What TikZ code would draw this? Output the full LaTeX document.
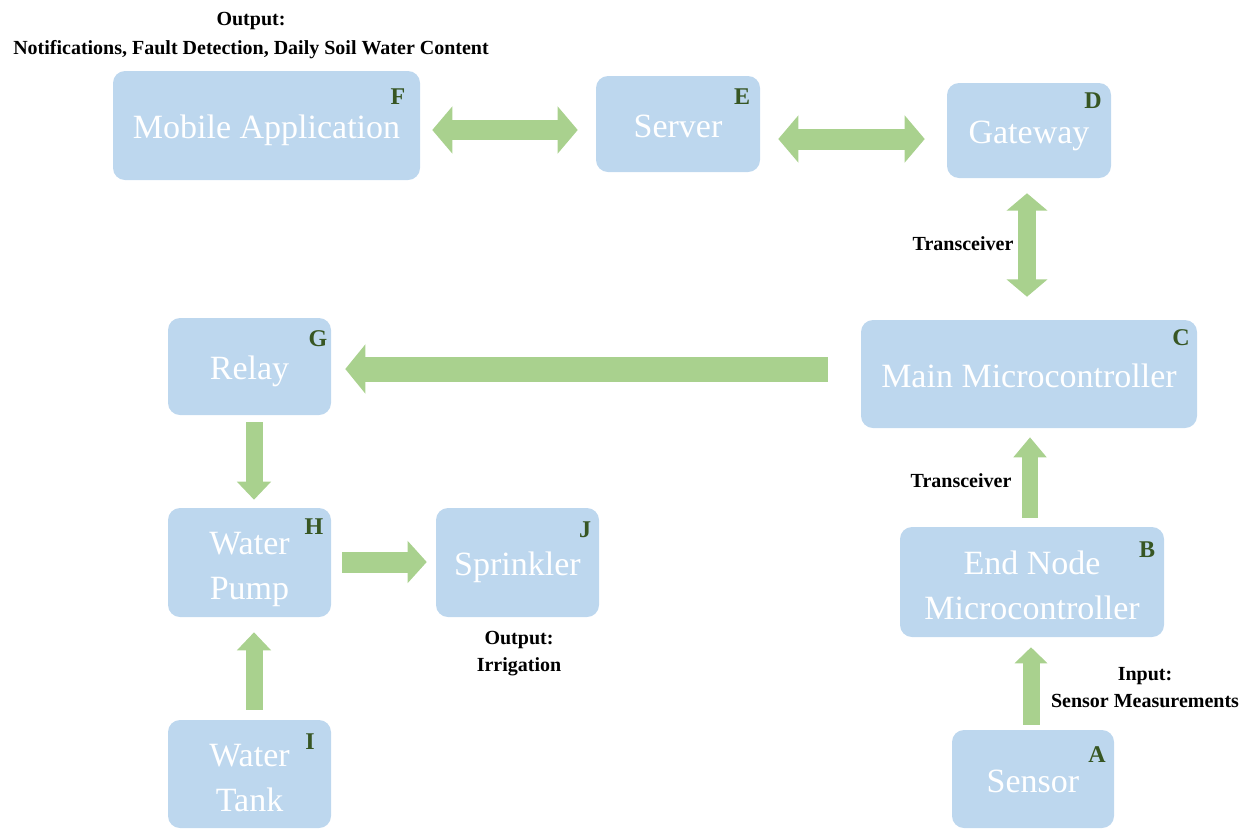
\documentclass[tikz,border=0pt]{standalone}
\usepackage{fontspec}
\setmainfont{Liberation Serif}
\usetikzlibrary{arrows.meta}
\definecolor{boxblue}{RGB}{189,215,238}
\definecolor{arrgreen}{RGB}{169,209,142}
\definecolor{lettergreen}{RGB}{55,86,35}
\tikzset{
  blk/.style={fill=boxblue, rounded corners=9pt, text=white, font=\fontsize{25.5}{34}\selectfont, align=center, inner sep=0pt, text height=26pt, text depth=6pt},
  blktwo/.style={blk, text height=62pt, text depth=6pt},
  tag/.style={text=lettergreen, font=\bfseries\fontsize{18}{18}\selectfont, inner sep=0pt},
  lbl/.style={font=\bfseries\fontsize{15}{21}\selectfont, align=center, inner sep=0pt},
  conn/.style={draw=arrgreen}
}
\begin{document}
\begin{tikzpicture}[x=0.75pt,y=-0.75pt]
\useasboundingbox (0,0) rectangle (1252,829);
% boxes
\node[blk, minimum width=230.25pt, minimum height=81.75pt] (F) at (266.5,125.5) {Mobile Application};
\node[blk, minimum width=123pt, minimum height=72pt] (E) at (678,124) {Server};
\node[blk, minimum width=123pt, minimum height=71.25pt] (D) at (1029,130.5) {Gateway};
\node[blk, minimum width=252pt, minimum height=81pt] (C) at (1029,374) {Main Microcontroller};
\node[blktwo, minimum width=198pt, minimum height=82.5pt] (B) at (1032,582) {End Node\\Microcontroller};
\node[blk, minimum width=121.5pt, minimum height=73.5pt] (A) at (1033,779) {Sensor};
\node[blk, minimum width=122.25pt, minimum height=72.75pt] (G) at (249.5,366.5) {Relay};
\node[blktwo, minimum width=122.25pt, minimum height=81.75pt] (H) at (249.5,562.5) {Water\\Pump};
\node[blk, minimum width=122.25pt, minimum height=81.75pt] (J) at (517.5,562.5) {Sprinkler};
\node[blktwo, minimum width=122.25pt, minimum height=81pt] (I) at (249.5,774) {Water\\Tank};
% letter tags
\node[tag] (tF) at (398,97) {F};
\node[tag] (tE) at (742,97) {E};
\node[tag] (tD) at (1093,101) {D};
\node[tag] (tC) at (1181,338) {C};
\node[tag] (tB) at (1147,550) {B};
\node[tag] (tA) at (1097,755) {A};
\node[tag] (tG) at (318,339) {G};
\node[tag] (tH) at (314,527) {H};
\node[tag] (tJ) at (585,530) {J};
\node[tag] (tI) at (310,742) {I};
% labels
\node[lbl, font=\bfseries\fontsize{15}{21.75}\selectfont] (lOutF) at (251,35.5) {Output:\\Notifications, Fault Detection, Daily Soil Water Content};
\node[lbl] (lTr1) at (963,244) {Transceiver};
\node[lbl] (lTr2) at (961,481) {Transceiver};
\node[lbl, font=\bfseries\fontsize{15}{20.25}\selectfont] (lOutJ) at (519,654) {Output:\\Irrigation};
\node[lbl, font=\bfseries\fontsize{15}{20.25}\selectfont] (lIn) at (1145,688) {Input:\\Sensor Measurements};
% helper coordinates for arrow lines
\coordinate (yFE) at (0,130);
\coordinate (yED) at (0,139);
\coordinate (xDC) at (1027,0);
\coordinate (yCG) at (0,369);
\coordinate (xGH) at (254,0);
\coordinate (yHJ) at (0,562);
\coordinate (xBC) at (1030,0);
\coordinate (xAB) at (1031,0);
% connectors
\draw[conn, line width=15pt, {Triangle[length=15pt,width=34.5pt]}-{Triangle[length=15pt,width=34.5pt]}, shorten <=9pt, shorten >=13.5pt] (F.east |- yFE) -- (E.west |- yFE);
\draw[conn, line width=15.75pt, {Triangle[length=15pt,width=34.5pt]}-{Triangle[length=15pt,width=34.5pt]}, shorten <=13.5pt, shorten >=16.5pt] (E.east |- yED) -- (D.west |- yED);
\draw[conn, line width=13.5pt, {Triangle[length=13pt,width=30pt]}-{Triangle[length=13pt,width=30pt]}, shorten <=11.25pt, shorten >=17.25pt] (D.south -| xDC) -- (C.north -| xDC);
\draw[conn, line width=18.75pt, -{Triangle[length=15pt,width=36pt]}, shorten <=24.75pt, shorten >=10.5pt] (C.west |- yCG) -- (G.east |- yCG);
\draw[conn, line width=12.75pt, -{Triangle[length=13.5pt,width=24.75pt]}, shorten <=5.25pt, shorten >=6pt] (G.south -| xGH) -- (H.north -| xGH);
\draw[conn, line width=15.75pt, -{Triangle[length=14.25pt,width=30.75pt]}, shorten <=8.25pt, shorten >=6.75pt] (H.east |- yHJ) -- (J.west |- yHJ);
\draw[conn, line width=12.75pt, -{Triangle[length=13.5pt,width=24.75pt]}, shorten <=7.5pt, shorten >=11.25pt] (I.north -| xGH) -- (H.south -| xGH);
\draw[conn, line width=12pt, -{Triangle[length=15pt,width=24pt]}, shorten <=6.75pt, shorten >=6.75pt] (B.north -| xBC) -- (C.south -| xBC);
\draw[conn, line width=12.75pt, -{Triangle[length=12pt,width=24pt]}, shorten <=3.75pt, shorten >=7.5pt] (A.north -| xAB) -- (B.south -| xAB);
\end{tikzpicture}
\end{document}
